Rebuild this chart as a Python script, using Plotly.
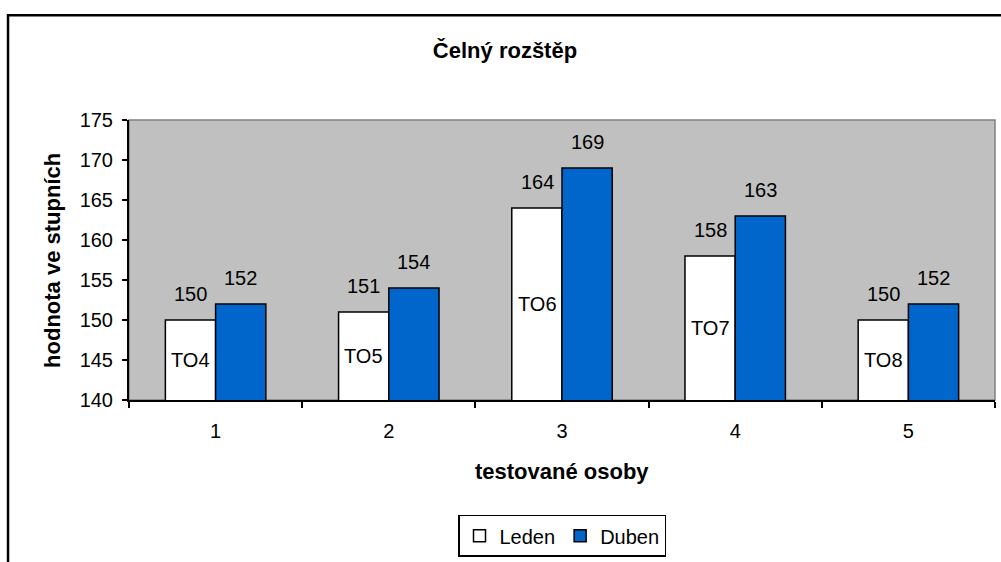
import plotly.graph_objects as go

categories = ["1", "2", "3", "4", "5"]
leden = [150, 151, 164, 158, 150]
duben = [152, 154, 169, 163, 152]
person_labels = ["TO4", "TO5", "TO6", "TO7", "TO8"]
y_ticks = [140, 145, 150, 155, 160, 165, 170, 175]
y_min, y_max = 140, 175

FONT = "Liberation Sans, Arial, sans-serif"

fig = go.Figure()
fig.add_trace(go.Bar(x=categories, y=leden, name="Leden",
                     marker=dict(color="white", line=dict(color="black", width=1.5))))
fig.add_trace(go.Bar(x=categories, y=duben, name="Duben",
                     marker=dict(color="#0066CC", line=dict(color="black", width=1.5))))

annotations = []
for i, (a, b, lab) in enumerate(zip(leden, duben, person_labels)):
    annotations.append(dict(x=i, y=a, xref="x", yref="y", text=str(a), showarrow=False,
                            xshift=-25, yshift=26, font=dict(size=20, color="black", family=FONT)))
    annotations.append(dict(x=i, y=b, xref="x", yref="y", text=str(b), showarrow=False,
                            xshift=25, yshift=26, font=dict(size=20, color="black", family=FONT)))
    # label centred in the visible part of the Leden bar
    annotations.append(dict(x=i, y=(y_min + a) / 2, xref="x", yref="y", text=lab, showarrow=False,
                            xshift=-25, font=dict(size=20, color="black", family=FONT)))

# axis titles
annotations.append(dict(x=0.5, y=-0.256, xref="paper", yref="paper", text="<b>testované osoby</b>",
                        showarrow=False, yanchor="middle", font=dict(size=22, color="black", family=FONT)))
annotations.append(dict(x=-0.089, y=0.5, xref="paper", yref="paper", text="<b>hodnota ve stupních</b>",
                        showarrow=False, textangle=-90, xanchor="center", yanchor="middle",
                        font=dict(size=22, color="black", family=FONT)))

shapes = [
    # chart area border
    dict(type="rect", xref="paper", yref="paper", x0=-0.1397, x1=1.1, y0=-0.8, y1=1.374,
         line=dict(color="black", width=2.5), fillcolor="rgba(0,0,0,0)", layer="above"),
    # plot area border
    dict(type="rect", xref="paper", yref="paper", x0=0, x1=1, y0=0, y1=1,
         line=dict(color="#808080", width=1.5), fillcolor="rgba(0,0,0,0)", layer="below"),
]

fig.update_layout(
    width=1001, height=562,
    margin=dict(l=129, r=6, t=120, b=161),
    paper_bgcolor="white", plot_bgcolor="#C0C0C0",
    barmode="group", bargap=0.42, bargroupgap=0,
    font=dict(family=FONT, color="black"),
    title=dict(text="<b>Čelný rozštěp</b>", x=0.5045, xanchor="center", y=1 - 50 / 562,
               yanchor="middle", xref="container", yref="container",
               font=dict(size=22, color="black", family=FONT)),
    showlegend=True,
    legend=dict(orientation="h", x=0.5, xanchor="center", y=-0.405, yanchor="top",
                bordercolor="black", borderwidth=1.5, bgcolor="white",
                font=dict(size=20, color="black", family=FONT), itemwidth=30,
                traceorder="normal"),
    annotations=annotations,
    shapes=shapes,
)
fig.update_xaxes(type="category", tickson="boundaries", ticks="outside", ticklen=6,
                 tickcolor="black", tickwidth=1.5, showline=True, linecolor="black", linewidth=2,
                 showgrid=False, ticklabelstandoff=12,
                 tickfont=dict(size=20, color="black", family=FONT))
fig.update_yaxes(range=[y_min, y_max], tickvals=y_ticks, ticks="outside", ticklen=5,
                 tickcolor="black", tickwidth=1.5, showline=True, linecolor="black", linewidth=2,
                 showgrid=False, zeroline=False, ticklabelstandoff=5,
                 tickfont=dict(size=20, color="black", family=FONT))

fig.write_html("out.html", config={"displayModeBar": False},
               post_script="document.body.style.margin='0px';")
